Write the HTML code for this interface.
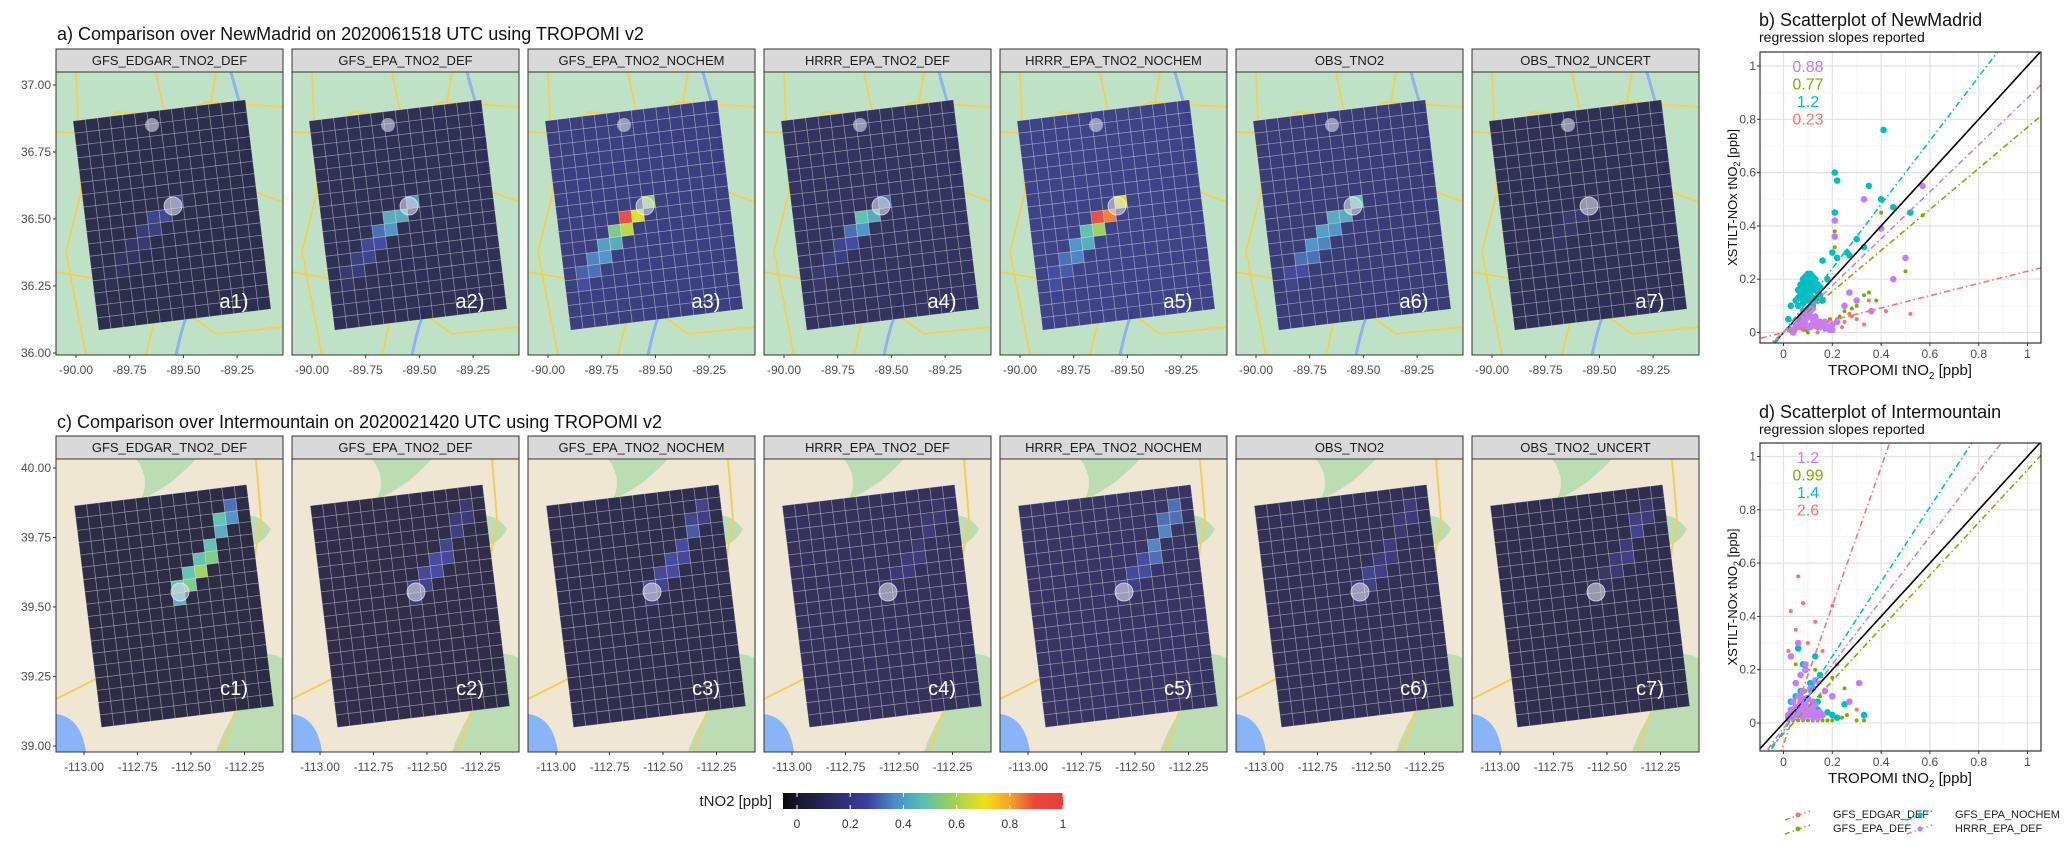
<!DOCTYPE html>
<html><head><meta charset="utf-8">
<style>
html,body{margin:0;padding:0;background:#fff;}
svg{display:block;font-family:"Liberation Sans",sans-serif;}
</style></head>
<body>
<svg id="fig" width="2067" height="852" viewBox="0 0 2067 852" xmlns="http://www.w3.org/2000/svg">
<defs>
<linearGradient id="cbar" x1="0" x2="1" y1="0" y2="0">
<stop offset="0" stop-color="#0a0a0a"/><stop offset="0.06" stop-color="#1a1830"/>
<stop offset="0.15" stop-color="#28255a"/><stop offset="0.3" stop-color="#3a3f9c"/>
<stop offset="0.4" stop-color="#4a8ec8"/><stop offset="0.5" stop-color="#58c0b0"/>
<stop offset="0.62" stop-color="#a8d24c"/><stop offset="0.72" stop-color="#f0e01c"/>
<stop offset="0.82" stop-color="#f49a2c"/><stop offset="0.9" stop-color="#e8453c"/>
<stop offset="1" stop-color="#e8403c"/>
</linearGradient>
</defs>
<g id="maps"></g>
<g id="scatters"></g>
<g id="cbar-g">
<text x="772" y="806" font-size="15" text-anchor="end" fill="#222">tNO2 [ppb]</text>
<rect x="783" y="793" width="280" height="16" fill="url(#cbar)"/>
</g>
</svg>
<script>
const NS='http://www.w3.org/2000/svg';
function mk(tag,attrs,parent,txt){const e=document.createElementNS(NS,tag);for(const k in attrs)e.setAttribute(k,attrs[k]);if(txt!==undefined)e.textContent=txt;parent.appendChild(e);return e;}

// ---------- map panel data ----------
const topPanels=['GFS_EDGAR_TNO2_DEF','GFS_EPA_TNO2_DEF','GFS_EPA_TNO2_NOCHEM','HRRR_EPA_TNO2_DEF','HRRR_EPA_TNO2_NOCHEM','OBS_TNO2','OBS_TNO2_UNCERT'];
const botPanels=topPanels;
const topBase=[0.1,0.12,0.22,0.14,0.24,0.2,0.12];
const botBase=[0.08,0.09,0.1,0.13,0.15,0.12,0.1];
const topPath=[[7,7],[6,8],[5,8],[5,9],[4,9],[4,10],[3,10],[3,11],[2,11],[2,12],[1,12],[1,13]];
const botPath=[[7,8],[8,7],[7,7],[8,6],[9,6],[9,5],[10,5],[10,4],[11,3],[11,2],[12,2],[12,1]];
const topPlume=[
[0.25,0.28,0.25,0.22,0.2,0.18,0.16,0.15,0.14,0.13,0.12,0.12],
[0.4,0.45,0.45,0.4,0.35,0.3,0.28,0.25,0.22,0.2,0.18,0.16],
[0.6,0.7,0.92,0.65,0.55,0.45,0.42,0.4,0.38,0.35,0.33,0.3],
[0.35,0.45,0.5,0.4,0.35,0.3,0.25,0.22,0.2,0.2,0.18,0.18],
[0.7,0.85,0.9,0.6,0.5,0.45,0.4,0.38,0.35,0.32,0.3,0.3],
[0.5,0.45,0.45,0.4,0.42,0.38,0.4,0.35,0.35,0.3,0.28,0.25],
[0.15,0.18,0.18,0.16,0.15,0.14,0.13,0.13,0.12,0.12,0.12,0.12]];
const botPlume=[
[0.45,0.55,0.5,0.5,0.6,0.5,0.55,0.5,0.45,0.5,0.4,0.35],
[0.2,0.25,0.25,0.28,0.3,0.3,0.28,0.25,0.22,0.2,0.2,0.18],
[0.22,0.25,0.28,0.28,0.3,0.3,0.28,0.3,0.32,0.25,0.22,0.25],
[0.15,0.15,0.16,0.18,0.2,0.2,0.2,0.18,0.2,0.18,0.18,0.16],
[0.2,0.22,0.25,0.28,0.3,0.3,0.35,0.38,0.38,0.35,0.35,0.35],
[0.2,0.22,0.2,0.25,0.22,0.2,0.2,0.2,0.18,0.18,0.2,0.2],
[0.12,0.14,0.14,0.16,0.18,0.2,0.22,0.2,0.25,0.22,0.2,0.16]];
const topLat=['37.00','36.75','36.50','36.25','36.00'];
const botLat=['40.00','39.75','39.50','39.25','39.00'];
const topLon=['-90.00','-89.75','-89.50','-89.25'];
const botLon=['-113.00','-112.75','-112.50','-112.25'];

const stops=[[0,[10,10,10]],[0.06,[26,24,48]],[0.15,[40,37,90]],[0.3,[58,63,156]],[0.4,[74,142,200]],[0.5,[88,192,176]],[0.62,[168,210,76]],[0.72,[240,224,28]],[0.82,[244,154,44]],[0.9,[232,69,60]],[1,[232,64,60]]];
function cmap(v){v=Math.max(0,Math.min(1,v));for(let i=1;i<stops.length;i++){if(v<=stops[i][0]){const a=stops[i-1],b=stops[i];const t=(v-a[0])/(b[0]-a[0]);return 'rgb('+a[1].map((c,j)=>Math.round(c+(b[1][j]-c)*t)).join(',')+')';}}return 'rgb(232,64,60)';}

const X0=56,STRIDE=236,MW=227,CELL=12.4;
const maps=document.getElementById('maps');

function mapDecor(g,top,h){
  if(top){
    mk('rect',{x:0,y:0,width:MW,height:h,fill:'#bfe2c6'},g);
    mk('path',{d:'M0 60 L40 62 L60 40 L120 45 L150 30 L227 35 M20 0 L25 120 L10 180 L30 283 M100 0 L110 50 M160 0 L150 60 L170 90 M0 200 L60 210 L80 250 L130 240 L160 262 L227 255 M90 283 L100 240 M200 120 L227 130',stroke:'#f2cf5c','stroke-width':2,fill:'none'},g);
    mk('path',{d:'M175 0 C185 40 200 70 190 120 M120 283 C125 260 130 240 140 225',stroke:'#8db4f0','stroke-width':3,fill:'none'},g);
  } else {
    mk('rect',{x:0,y:0,width:MW,height:h,fill:'#efe7d4'},g);
    mk('path',{d:'M80 0 Q95 20 85 40 Q110 30 130 10 L140 0 Z M180 60 Q200 50 215 70 Q205 90 185 85 Z M190 200 Q215 190 227 200 L227 293 L160 293 Q175 250 195 240 Z',fill:'#bcdcb4'},g);
    mk('path',{d:'M0 240 L60 210 M200 0 L205 60 L195 120 M165 293 L180 250 L200 230',stroke:'#f2cf5c','stroke-width':2,fill:'none'},g);
    mk('path',{d:'M0 255 Q25 258 30 293 L0 293 Z',fill:'#8ab4f8'},g);
  }
}

function drawPanel(i,top){
  const px=X0+i*STRIDE, sy=top?49:436, my=top?72:459, mh=top?283:293;
  const name=top?topPanels[i]:botPanels[i];
  const base=top?topBase[i]:botBase[i];
  const path=top?topPath:botPath;
  const plume=top?topPlume[i]:botPlume[i];
  const pg=mk('g',{},maps);
  
  
  const st=mk('rect',{x:px,y:sy,width:MW,height:23,fill:'#d9d9d9',stroke:'#333','stroke-width':1},pg);
  
  
  const stt=mk('text',{x:px+MW/2,y:sy+16,'font-size':13,'text-anchor':'middle',fill:'#1a1a1a'},pg,name);
  
  
  const svgClip=mk('svg',{x:px,y:my,width:MW,height:mh,overflow:'hidden'},pg);
  mapDecor(svgClip,top,mh);
  const cols=14, rows=top?17:18;
  const cx=top?116:118, cy=top?143:147;
  const grid=mk('g',{transform:'translate('+cx+','+cy+') rotate(-7)'},svgClip);
  
  
  const vals={};
  path.forEach((p,k)=>{vals[p[0]+','+p[1]]=plume[k];});
  for(let r=0;r<rows;r++)for(let c=0;c<cols;c++){
    const v=vals[c+','+r]!==undefined?vals[c+','+r]:base;
    const cell=mk('rect',{x:(c-cols/2)*CELL,y:(r-rows/2)*CELL,width:CELL,height:CELL,fill:cmap(v),'fill-opacity':0.92,stroke:'rgba(255,255,255,0.28)','stroke-width':0.8},grid);
    
    
  }
  const src=top?[117,134,9]:[124,133,9];
  const c1=mk('circle',{cx:src[0],cy:src[1],r:src[2],fill:'rgba(220,220,230,0.6)',stroke:'rgba(255,255,255,0.6)'},svgClip);
  
  
  if(top){const c2=mk('circle',{cx:96,cy:53,r:7,fill:'rgba(220,220,230,0.6)'},svgClip);
    
    }
  const lab=mk('text',{x:178,y:236,'font-size':20,'text-anchor':'middle',fill:'#fff'},svgClip,(top?'a':'c')+(i+1)+')');
  
  
  mk('rect',{x:px,y:my,width:MW,height:mh,fill:'none',stroke:'#333','stroke-width':1},pg);
  const lons=top?topLon:botLon;
  lons.forEach((l,k)=>{
    const x=px+(top?20:28)+k*(top?53.7:53.5);
    mk('line',{x1:x,x2:x,y1:my+mh,y2:my+mh+3,stroke:'#333'},pg);
    const t=mk('text',{x:x,y:my+mh+19,'font-size':12,'text-anchor':'middle',fill:'#4d4d4d'},pg,l);
    
    
  });
  if(i===0){
    const lats=top?topLat:botLat;
    lats.forEach((l,k)=>{
      const y=top?85+k*67:468+k*69.5;
      mk('line',{x1:px-3,x2:px,y1:y,y2:y,stroke:'#333'},pg);
      const t=mk('text',{x:px-5,y:y+4,'font-size':12,'text-anchor':'end',fill:'#4d4d4d'},pg,l);
      
      
    });
  }
}
for(let i=0;i<7;i++){drawPanel(i,true);drawPanel(i,false);}
const t1=mk('text',{x:57,y:40,'font-size':18,fill:'#111'},maps,'a) Comparison over NewMadrid on 2020061518 UTC using TROPOMI v2');


const t2=mk('text',{x:57,y:428,'font-size':18,fill:'#111'},maps,'c) Comparison over Intermountain on 2020021420 UTC using TROPOMI v2');



const cbTicks=['0','0.2','0.4','0.6','0.8','1'];
const cbg=document.getElementById('cbar-g');
cbTicks.forEach((l,k)=>{
  const x=797+k*53.2;
  mk('line',{x1:x,x2:x,y1:793,y2:797,stroke:'#fff'},cbg);
  mk('line',{x1:x,x2:x,y1:805,y2:809,stroke:'#fff'},cbg);
  const t=mk('text',{x:x,y:828,'font-size':12,'text-anchor':'middle',fill:'#333'},cbg,l);
  
  
});

// ---------- scatter data ----------
const seriesNames=['GFS_EDGAR_DEF','GFS_EPA_DEF','GFS_EPA_NOCHEM','HRRR_EPA_DEF'];
const seriesColors=['#F8766D','#7CAE00','#00BFC4','#C77CFF'];
const axisTicks=['0','0.2','0.4','0.6','0.8','1'];
const bSlopes=[0.23,0.77,1.2,0.88];
const bIntercepts=[0.0,0.0,0.0,0.0];
const dSlopes=[2.6,0.99,1.4,1.2];
const dIntercepts=[-0.08,-0.04,-0.03,-0.02];
const bSlopeLabels=['0.88','0.77','1.2','0.23'];
const dSlopeLabels=['1.2','0.99','1.4','2.6'];
const bRedX=[0.08,0.1,0.12,0.15,0.18,0.2,0.22,0.25,0.28,0.3,0.35,0.42,0.52,0.14,0.17,0.24,0.27,0.33];
const bRedY=[0.01,0.02,0.03,0.02,0.04,0.03,0.05,0.04,0.06,0.05,0.12,0.08,0.07,0.0,0.01,0.02,0.07,0.03];
const bGreenX=[0.05,0.07,0.09,0.11,0.13,0.15,0.17,0.19,0.21,0.21,0.23,0.25,0.3,0.35,0.4,0.45,0.5,0.57,0.28,0.33,0.38,0.1,0.12];
const bGreenY=[0.01,0.02,0.01,0.03,0.02,0.04,0.03,0.05,0.38,0.32,0.06,0.08,0.1,0.15,0.45,0.2,0.23,0.44,0.09,0.14,0.12,0.0,0.04];
const bTealX=[0.05,0.07,0.08,0.09,0.1,0.11,0.12,0.13,0.06,0.08,0.1,0.12,0.14,0.07,0.09,0.11,0.13,0.15,0.08,0.1,0.12,0.09,0.11,0.02,0.03,0.18,0.22,0.2,0.26,0.3,0.33,0.4,0.45,0.52,0.22,0.21,0.21,0.35,0.16,0.27,0.41,0.06,0.14,0.1,0.12,0.08,
 0.07,0.09,0.11,0.13,0.08,0.1,0.12,0.14,0.09,0.11,0.13,0.1,0.12,0.07,0.15,0.16,0.06,0.1];
const bTealY=[0.12,0.13,0.15,0.17,0.18,0.2,0.19,0.16,0.1,0.11,0.14,0.13,0.15,0.18,0.21,0.22,0.2,0.14,0.08,0.09,0.1,0.05,0.12,0.05,0.1,0.2,0.28,0.3,0.3,0.35,0.32,0.5,0.47,0.45,0.57,0.6,0.45,0.55,0.27,0.29,0.76,0.16,0.18,0.16,0.11,0.2,
 0.14,0.13,0.15,0.12,0.16,0.19,0.17,0.13,0.19,0.17,0.18,0.12,0.21,0.15,0.17,0.12,0.13,0.22];
const bPurpleX=[0.03,0.05,0.07,0.09,0.11,0.13,0.15,0.17,0.19,0.06,0.08,0.1,0.12,0.14,0.16,0.08,0.1,0.12,0.04,0.2,0.22,0.21,0.21,0.33,0.4,0.5,0.57,0.3,0.45,0.25,0.27,0.36,
 0.05,0.07,0.09,0.11,0.13,0.15,0.17,0.06,0.08,0.1,0.12,0.14,0.09,0.11,0.07,0.13,0.18,0.2];
const bPurpleY=[0.01,0.02,0.02,0.03,0.02,0.03,0.02,0.02,0.01,0.04,0.05,0.06,0.05,0.04,0.03,0.08,0.07,0.09,0.0,0.03,0.04,0.42,0.36,0.5,0.39,0.28,0.55,0.12,0.2,0.1,0.15,0.08,
 0.03,0.04,0.05,0.06,0.05,0.04,0.04,0.02,0.03,0.02,0.03,0.02,0.07,0.08,0.06,0.06,0.02,0.01];
const dRedX=[0.02,0.03,0.05,0.06,0.08,0.1,0.13,0.16,0.2,0.22,0.3,0.04];
const dRedY=[0.27,0.42,0.35,0.55,0.45,0.3,0.38,0.27,0.44,0.22,0.05,0.02];
const dGreenX=[0.02,0.04,0.06,0.08,0.1,0.12,0.14,0.16,0.18,0.2,0.22,0.24,0.26,0.3,0.33,0.05,0.07,0.09,0.11,0.13,0.15,0.2,0.25];
const dGreenY=[0.01,0.01,0.01,0.01,0.01,0.01,0.01,0.01,0.01,0.01,0.02,0.02,0.03,0.01,0.01,0.22,0.18,0.12,0.15,0.2,0.1,0.17,0.13];
const dTealX=[0.02,0.04,0.06,0.08,0.1,0.12,0.14,0.16,0.18,0.2,0.22,0.05,0.07,0.09,0.11,0.13,0.15,0.06,0.08,0.1,0.12,0.14,0.2,0.25,0.33,0.03];
const dTealY=[0.03,0.05,0.04,0.06,0.05,0.04,0.05,0.03,0.04,0.03,0.02,0.1,0.12,0.2,0.15,0.25,0.18,0.28,0.22,0.09,0.13,0.08,0.1,0.07,0.03,0.08];
const dPurpleX=[0.02,0.03,0.04,0.05,0.06,0.07,0.08,0.09,0.1,0.11,0.12,0.13,0.14,0.15,0.16,0.04,0.06,0.08,0.1,0.12,0.05,0.07,0.09,0.11,0.02,0.04,0.06,0.08,0.1,0.12,0.14,0.03,0.06,0.09,0.13,0.17,0.2,0.27,0.31,
 0.03,0.05,0.07,0.09,0.11,0.13,0.04,0.06,0.08,0.1,0.07,0.09];
const dPurpleY=[0.03,0.04,0.05,0.04,0.06,0.05,0.07,0.06,0.05,0.04,0.05,0.04,0.03,0.04,0.03,0.08,0.1,0.12,0.09,0.08,0.15,0.18,0.2,0.13,0.02,0.02,0.03,0.02,0.03,0.02,0.02,0.25,0.3,0.22,0.16,0.12,0.1,0.08,0.15,
 0.05,0.06,0.08,0.07,0.06,0.07,0.04,0.03,0.04,0.03,0.1,0.09];

const scEl=document.getElementById('scatters');
function scatter(cfg){
  const g=mk('g',{},scEl);
  
  
  const L=1760,R=2041,T=cfg.top,B=cfg.bottom;
  const xs=v=>1783.5+v*244, ys=v=>cfg.y0-v*cfg.ypx;
  mk('rect',{x:L,y:T,width:R-L,height:B-T,fill:'#fff'},g);
  for(let k=-1;k<=10;k++){const v=k/10;
    const x=xs(v),y=ys(v);
    if(x>L&&x<R)mk('line',{x1:x,x2:x,y1:T,y2:B,stroke:k%2?'#f2f2f2':'#e3e3e3','stroke-width':k%2?0.8:1.2},g);
    if(y>T&&y<B)mk('line',{x1:L,x2:R,y1:y,y2:y,stroke:k%2?'#f2f2f2':'#e3e3e3','stroke-width':k%2?0.8:1.2},g);
  }
  const cp='clip-'+cfg.name;
  const cl=mk('clipPath',{id:cp},g);mk('rect',{x:L,y:T,width:R-L,height:B-T},cl);
  const inner=mk('g',{'clip-path':'url(#'+cp+')'},g);
  cfg.points.forEach((s,si)=>{
    s[0].forEach((xv,k)=>{
      const p=mk('circle',{cx:xs(xv),cy:ys(s[1][k]),r:si===2||si===3?3.3:2,fill:seriesColors[si]},inner);
      
      
    });
  });
  const idl=mk('line',{x1:xs(-0.2),y1:ys(-0.2),x2:xs(1.2),y2:ys(1.2),stroke:'#000','stroke-width':1.6},inner);
  
  
  cfg.slopes.forEach((m,si)=>{
    const b=cfg.intercepts[si];
    const ln=mk('line',{x1:xs(-0.2),y1:ys(-0.2*m+b),x2:xs(1.2),y2:ys(1.2*m+b),stroke:seriesColors[si],'stroke-width':1.6,'stroke-dasharray':'6 3 1.5 3'},inner);
    
    
  });
  mk('rect',{x:L,y:T,width:R-L,height:B-T,fill:'none',stroke:'#333','stroke-width':1.2},g);
  axisTicks.forEach(l=>{const v=parseFloat(l);
    mk('line',{x1:xs(v),x2:xs(v),y1:B,y2:B+3,stroke:'#333'},g);
    const tx=mk('text',{x:xs(v),y:B+15,'font-size':12,'text-anchor':'middle',fill:'#4d4d4d'},g,l);
    
    
    mk('line',{x1:L-3,x2:L,y1:ys(v),y2:ys(v),stroke:'#333'},g);
    const ty=mk('text',{x:L-4,y:ys(v)+4,'font-size':12,'text-anchor':'end',fill:'#4d4d4d'},g,l);
    
    
  });
  const order=[3,1,2,0];
  cfg.labels.forEach((l,k)=>{
    const t=mk('text',{x:1808,y:cfg.labelY+k*17.5,'font-size':16,'text-anchor':'middle',fill:seriesColors[order[k]]},g,l);
    
    
  });
  const tt=mk('text',{x:1759,y:cfg.titleY,'font-size':18,fill:'#111'},g,cfg.title);
  
  
  const st=mk('text',{x:1759,y:cfg.titleY+16,'font-size':14,fill:'#111'},g,'regression slopes reported');
  
  
  const xt=mk('text',{x:1900,y:B+32,'font-size':15,'text-anchor':'middle',fill:'#111'},g);
  xt.innerHTML='TROPOMI tNO<tspan font-size="10" dy="4">2</tspan><tspan dy="-4"> [ppb]</tspan>';
  
  
  const ym=(T+B)/2;
  const yt=mk('text',{x:0,y:0,'font-size':13,'text-anchor':'middle',fill:'#111',transform:'translate(1737,'+ym+') rotate(-90)'},g);
  yt.innerHTML='XSTILT-NOx tNO<tspan font-size="9" dy="3">2</tspan><tspan dy="-3"> [ppb]</tspan>';
  
  
}
scatter({name:'scatter-b',top:52,bottom:343,y0:332.5,ypx:266.5,slopes:bSlopes,intercepts:bIntercepts,labels:bSlopeLabels,labelY:72,titleY:26,title:'b) Scatterplot of NewMadrid',
  points:[[bRedX,bRedY],[bGreenX,bGreenY],[bTealX,bTealY],[bPurpleX,bPurpleY]]});
scatter({name:'scatter-d',top:443,bottom:751,y0:723,ypx:266.5,slopes:dSlopes,intercepts:dIntercepts,labels:dSlopeLabels,labelY:463,titleY:418,title:'d) Scatterplot of Intermountain',
  points:[[dRedX,dRedY],[dGreenX,dGreenY],[dTealX,dTealY],[dPurpleX,dPurpleY]]});

const lg=mk('g',{},scEl);


const legPos=[[1790,817],[1790,831],[1912,817],[1912,831]];
seriesNames.forEach((n,k)=>{
  const p=legPos[k];
  const it=mk('g',{},lg);
  
  
  mk('line',{x1:p[0]-5,y1:p[1]+3,x2:p[0]+20,y2:p[1]-6,stroke:seriesColors[k],'stroke-width':1.5,'stroke-dasharray':'5 3 1.5 3'},it);
  mk('circle',{cx:p[0]+8,cy:p[1]-2,r:2.5,fill:seriesColors[k]},it);
  mk('text',{x:p[0]+43,y:p[1]+1,'font-size':11,fill:'#222'},it,n);
});
</script>
</body></html>
